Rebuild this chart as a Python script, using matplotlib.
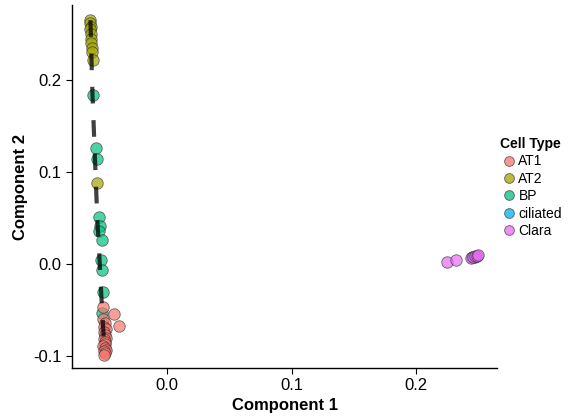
import matplotlib
matplotlib.use("Agg")
import matplotlib.pyplot as plt
from matplotlib.lines import Line2D

plt.rcParams['font.family'] = ['Liberation Sans', 'DejaVu Sans']

cell_types = ["AT1", "AT2", "BP", "ciliated", "Clara"]
colors = ["#F8766D", "#A3A500", "#00BF7D", "#00B0F6", "#E76BF3"]

at1_x = [-0.0514, -0.0426, -0.0386, -0.051, -0.050, -0.0505, -0.049, -0.0505, -0.050, -0.049,
         -0.0505, -0.050, -0.0495, -0.051, -0.050, -0.049, -0.0505, -0.050, -0.0505]
at1_y = [-0.047, -0.054, -0.067, -0.060, -0.064, -0.068, -0.071, -0.074, -0.077, -0.080,
         -0.082, -0.085, -0.087, -0.089, -0.091, -0.093, -0.095, -0.097, -0.099]

at2_x = [-0.0618, -0.0615, -0.0612, -0.0615, -0.061, -0.0608, -0.0612, -0.0605, -0.0602, -0.0598, -0.056]
at2_y = [0.265, 0.262, 0.258, 0.255, 0.250, 0.245, 0.240, 0.235, 0.230, 0.222, 0.088]

bp_x = [-0.0594, -0.057, -0.056, -0.0546, -0.0538, -0.0546, -0.052, -0.053, -0.052, -0.0514, -0.052]
bp_y = [0.184, 0.126, 0.114, 0.051, 0.041, 0.036, 0.026, 0.004, -0.0065, -0.030, -0.053]

cil_x = [0.245, 0.247]
cil_y = [0.0075, 0.008]

clara_x = [0.225, 0.232, 0.244, 0.246, 0.247, 0.249, 0.250]
clara_y = [0.002, 0.004, 0.007, 0.008, 0.0085, 0.009, 0.0095]

traj_x = [-0.0615, -0.0600, -0.0580, -0.0560, -0.0540, -0.0525, -0.0510, -0.0505]
traj_y = [0.265, 0.190, 0.120, 0.050, 0.000, -0.040, -0.075, -0.095]

fig = plt.figure(figsize=(5.74, 4.17), dpi=100)
ax = fig.add_axes([0.1254, 0.1175, 0.866 - 0.1254, 0.988 - 0.1175])

ax.plot(traj_x, traj_y, color="black", lw=3.0, alpha=0.75,
        linestyle=(0, (4, 4)), zorder=3, solid_capstyle="butt")

series = [(at1_x, at1_y), (at2_x, at2_y), (bp_x, bp_y), (cil_x, cil_y), (clara_x, clara_y)]
order = [1, 2, 0, 3, 4]
for i in order:
    xs, ys = series[i]
    ax.scatter(xs, ys, s=68, color=colors[i], alpha=0.7, edgecolors="#333333",
               linewidths=0.6, zorder=2)

ax.set_xlim(-0.0763, 0.265)
ax.set_ylim(-0.113, 0.2815)
ax.set_xticks([0.0, 0.1, 0.2])
ax.set_xticklabels(["0.0", "0.1", "0.2"])
ax.set_yticks([-0.1, 0.0, 0.1, 0.2])
ax.set_yticklabels(["-0.1", "0.0", "0.1", "0.2"])
for s in ["top", "right"]:
    ax.spines[s].set_visible(False)
for s in ["left", "bottom"]:
    ax.spines[s].set_linewidth(1.0)
ax.tick_params(direction="out", length=4, width=0.8, labelsize=12, colors="black")
ax.set_xlabel("Component 1", fontsize=12, fontweight="bold", labelpad=3)
ax.set_ylabel("Component 2", fontsize=12, fontweight="bold", labelpad=4)

handles = [Line2D([], [], marker="o", linestyle="none", markersize=7,
                  markerfacecolor=c, markeredgecolor="#333333", markeredgewidth=0.6,
                  alpha=0.75) for c in colors]
leg = fig.legend(handles, cell_types, title="Cell Type", loc="upper left",
                 bbox_to_anchor=(0.862, 0.685), frameon=False, fontsize=10,
                 title_fontsize=10, handletextpad=0.1, labelspacing=0.25,
                 borderaxespad=0, handlelength=1.2)
leg.get_title().set_fontweight("bold")
leg._legend_box.align = "left"

fig.savefig("out.png", dpi=100)
